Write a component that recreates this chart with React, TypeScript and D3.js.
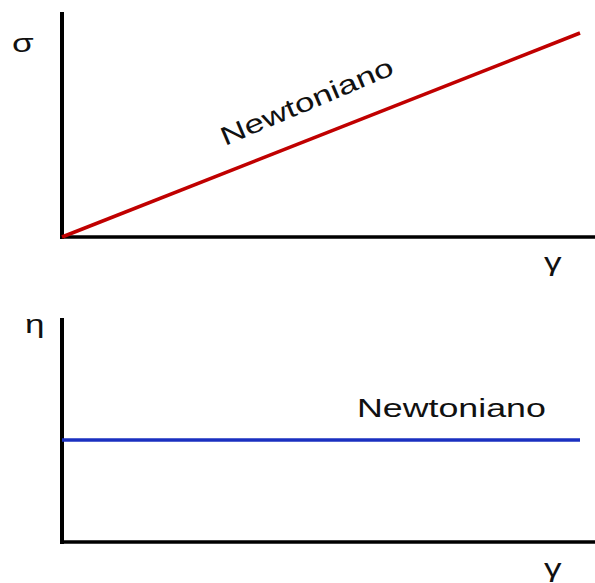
import React from 'react';
import * as d3 from 'd3';

// Newtonian fluid: shear stress grows linearly with shear rate, viscosity stays constant
const shearRate = [0, 1];
const shearStress = [0, 1];
const viscosity = [0.455, 0.455];
const curveLabel = 'Newtoniano';
const axisLabels = { stress: 'σ', viscosity: 'η', rate: 'γ' };

const W = 595;
const H = 583;
const FONT = '"Liberation Sans", Arial, sans-serif';
const STRETCH = 1.35;

const App = () => {
  // shared x scale
  const x = d3.scaleLinear().domain([0, 1]).range([62, 580]);
  // top panel: stress
  const yTop = d3.scaleLinear().domain([0, 1]).range([237, 33]);
  // bottom panel: viscosity
  const yBot = d3.scaleLinear().domain([0, 1]).range([542, 318]);

  const pts = shearRate.map((g, i) => ({ g, s: shearStress[i], v: viscosity[i] }));
  const stressLine = d3.line<any>().x(d => x(d.g)).y(d => yTop(d.s));
  const viscLine = d3.line<any>().x(d => x(d.g)).y(d => yBot(d.v));

  const angle = (Math.atan2(yTop(1) - yTop(0), x(1) - x(0)) * 180) / Math.PI - 1.5;

  const txt = (px: number, py: number, s: string, size = 26, extra = '') => (
    <text
      transform={`translate(${px},${py}) ${extra} scale(${STRETCH},1)`}
      fontFamily={FONT}
      fontSize={size}
      fill="#111"
    >
      {s}
    </text>
  );

  return (
    <svg width={W} height={H} style={{ position: 'absolute', left: 0, top: 0, background: '#fff' }}>
      {/* top axes */}
      <line x1={x(0)} x2={x(0)} y1={12} y2={yTop(0) + 2} stroke="#000" strokeWidth={4} />
      <line x1={x(0) - 2} x2={W} y1={yTop(0)} y2={yTop(0)} stroke="#000" strokeWidth={3.5} />
      <path d={stressLine(pts) || ''} fill="none" stroke="#c00000" strokeWidth={3.5} />
      {txt(225, 146, curveLabel, 26, `rotate(${angle})`)}
      {txt(12, 52, axisLabels.stress)}
      {txt(544, 271, axisLabels.rate)}

      {/* bottom axes */}
      <line x1={x(0)} x2={x(0)} y1={318} y2={yBot(0) + 2} stroke="#000" strokeWidth={4} />
      <line x1={x(0) - 2} x2={W} y1={yBot(0)} y2={yBot(0)} stroke="#000" strokeWidth={3.5} />
      <path d={viscLine(pts) || ''} fill="none" stroke="#1a30c0" strokeWidth={3.5} />
      {txt(357, 417, curveLabel, 26.5)}
      {txt(25, 333, axisLabels.viscosity)}
      {txt(544, 577, axisLabels.rate)}
    </svg>
  );
};

export default App;
